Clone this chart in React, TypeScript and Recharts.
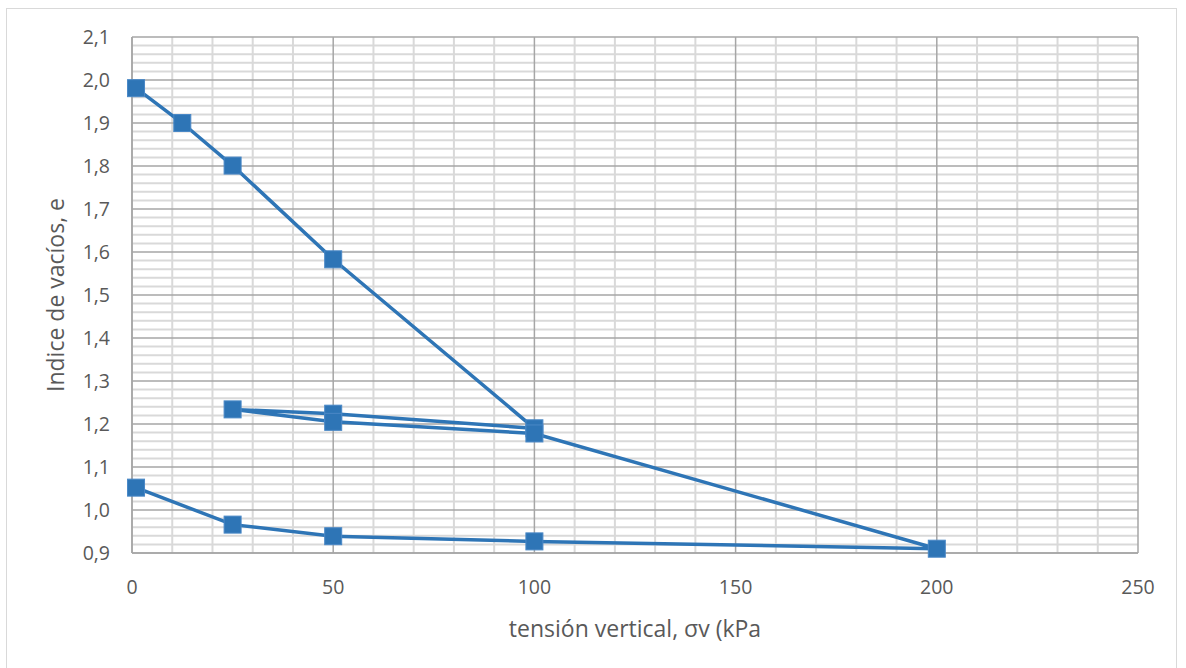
import { ScatterChart, Scatter, XAxis, YAxis, ReferenceLine } from 'recharts';

// tensión vertical (kPa) y índice de vacíos, en el orden del ensayo
const sigmaV = [1, 12.5, 25, 50, 100, 50, 25, 50, 100, 200, 100, 50, 25, 1];
const voidRatio = [1.981, 1.9, 1.801, 1.583, 1.19, 1.224, 1.234, 1.205, 1.178, 0.91, 0.927, 0.939, 0.966, 1.052];

const xTicks = [0, 50, 100, 150, 200, 250];
const yTicks = [0.9, 1.0, 1.1, 1.2, 1.3, 1.4, 1.5, 1.6, 1.7, 1.8, 1.9, 2.0, 2.1];
const xMinor = [10, 20, 30, 40, 60, 70, 80, 90, 110, 120, 130, 140, 160, 170, 180, 190, 210, 220, 230, 240];
const yMinor = yTicks.slice(0, -1).flatMap((t) => [0.02, 0.04, 0.06, 0.08].map((d) => +(t + d).toFixed(2)));

const points = sigmaV.map((x, i) => ({ x, y: voidRatio[i] }));

const BLUE = '#2E75B6';
const TEXT = '#595959';
const FONT = '"Open Sans", Lato, sans-serif';

const SquareMarker = (props: any) => {
  const { cx, cy } = props;
  if (cx == null || cy == null) return null;
  return <rect x={cx - 8.5} y={cy - 8.5} width={17} height={17} fill={BLUE} stroke="#4A88C6" strokeWidth={1} />;
};

const fmt = (v: number) => v.toFixed(1).replace('.', ',');

const App = () => {
  return (
    <div style={{ position: 'absolute', left: 0, top: 0, width: 1186, height: 668, background: '#fff', fontFamily: FONT }}>
      <div
        style={{
          position: 'absolute',
          left: 6,
          top: 8,
          width: 1171,
          height: 670,
          border: '1px solid #D9D9D9',
          boxSizing: 'border-box',
        }}
      />
      <ScatterChart width={1186} height={668} margin={{ top: 37, right: 48, bottom: 0, left: 0 }} style={{ position: 'absolute', left: 0, top: 0 }}>
        {xMinor.map((v) => (
          <ReferenceLine key={'xm' + v} x={v} stroke="#D9D9D9" strokeWidth={2} />
        ))}
        {yMinor.map((v) => (
          <ReferenceLine key={'ym' + v} y={v} stroke="#D9D9D9" strokeWidth={2} />
        ))}
        {xTicks.map((v) => (
          <ReferenceLine key={'xM' + v} x={v} stroke="#A6A6A6" strokeWidth={1.5} />
        ))}
        {yTicks.map((v) => (
          <ReferenceLine key={'yM' + v} y={v} stroke="#A6A6A6" strokeWidth={1.5} />
        ))}
        <XAxis
          type="number"
          dataKey="x"
          domain={[0, 250]}
          ticks={xTicks}
          height={115}
          axisLine={{ stroke: '#A6A6A6', strokeWidth: 1.5 }}
          tickLine={false}
          tickSize={0}
          tickMargin={27}
          tick={{ fill: TEXT, fontSize: 19.5, fontFamily: FONT }}
          label={{
            value: 'tensión vertical, σv (kPa',
            position: 'insideBottom',
            offset: 31,
            fill: TEXT,
            fontSize: 23,
            fontFamily: FONT,
          }}
        />
        <YAxis
          type="number"
          dataKey="y"
          domain={[0.9, 2.1]}
          ticks={yTicks}
          width={132}
          axisLine={{ stroke: '#A6A6A6', strokeWidth: 1.5 }}
          tickLine={false}
          tickSize={0}
          tickMargin={22}
          tickFormatter={fmt}
          tick={{ fill: TEXT, fontSize: 19.5, fontFamily: FONT }}
          label={{
            value: 'Indice de vacíos, e',
            angle: -90,
            position: 'insideLeft',
            offset: 56,
            fill: TEXT,
            fontSize: 23,
            fontFamily: FONT,
            style: { textAnchor: 'middle' },
          }}
        />
        <Scatter
          data={points}
          fill={BLUE}
          line={{ stroke: BLUE, strokeWidth: 3.5 }}
          lineType="joint"
          shape={<SquareMarker />}
          isAnimationActive={false}
        />
      </ScatterChart>
    </div>
  );
};

export default App;
